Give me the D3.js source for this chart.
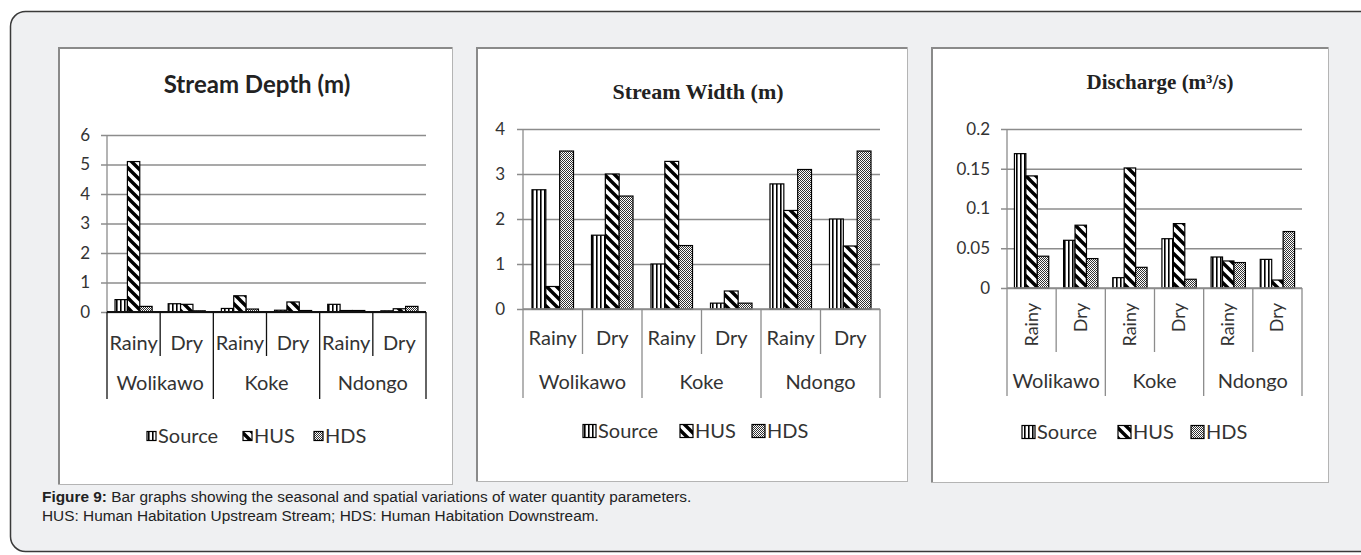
<!DOCTYPE html>
<html>
<head>
<meta charset="utf-8">
<script src="https://cdn.jsdelivr.net/npm/d3@7"></script>
<style>
  body { margin: 0; background: #fff; }
  svg { display: block; }
</style>
</head>
<body>
<svg id="fig" width="1361" height="555"></svg>
<script>
// categories
var groups = ["Wolikawo", "Koke", "Ndongo"];
var seasons = ["Rainy", "Dry"];
var seriesNames = ["Source", "HUS", "HDS"];

// Stream depth (m)
var depthSource = [0.42, 0.28, 0.12, 0.06, 0.26, 0.04];
var depthHUS = [5.1, 0.26, 0.55, 0.34, 0.05, 0.11];
var depthHDS = [0.19, 0.04, 0.1, 0.05, 0.05, 0.19];
var depthTicks = [0, 1, 2, 3, 4, 5, 6];

// Stream width (m)
var widthSource = [2.65, 1.64, 1.0, 0.13, 2.78, 2.0];
var widthHUS = [0.5, 3.0, 3.28, 0.4, 2.19, 1.4];
var widthHDS = [3.51, 2.51, 1.41, 0.13, 3.1, 3.51];
var widthTicks = [0, 1, 2, 3, 4];

// Discharge (m3/s)
var dischargeSource = [0.169, 0.06, 0.013, 0.062, 0.039, 0.036];
var dischargeHUS = [0.141, 0.079, 0.151, 0.081, 0.034, 0.01];
var dischargeHDS = [0.04, 0.037, 0.026, 0.011, 0.032, 0.071];
var dischargeTicks = [0, 0.05, 0.1, 0.15, 0.2];

var svg = d3.select("#fig");
var labelFont = "Lato, 'Open Sans', sans-serif";

// fill patterns
var defs = svg.append("defs");
var p = defs.append("pattern").attr("id", "pSource").attr("patternUnits", "userSpaceOnUse")
    .attr("width", 4).attr("height", 4);
p.append("rect").attr("width", 4).attr("height", 4).attr("fill", "#fff");
p.append("rect").attr("x", 0).attr("width", 1.6).attr("height", 4).attr("fill", "#000");

p = defs.append("pattern").attr("id", "pHUS").attr("patternUnits", "userSpaceOnUse")
    .attr("width", 10).attr("height", 10);
p.append("rect").attr("width", 10).attr("height", 10).attr("fill", "#fff");
p.append("path").attr("d", "M-3,-3L13,13M-3,7L3,13M7,-3L13,3")
    .attr("stroke", "#000").attr("stroke-width", 3.4);

p = defs.append("pattern").attr("id", "pHDS").attr("patternUnits", "userSpaceOnUse")
    .attr("width", 2).attr("height", 2);
p.append("rect").attr("width", 2).attr("height", 2).attr("fill", "#fff");
p.append("rect").attr("width", 1).attr("height", 1).attr("fill", "#333");
p.append("rect").attr("x", 1).attr("y", 1).attr("width", 1).attr("height", 1).attr("fill", "#333");

var fills = {Source: "url(#pSource)", HUS: "url(#pHUS)", HDS: "url(#pHDS)"};

// outer frame
svg.append("rect").attr("x", 10.5).attr("y", 11.5).attr("width", 1400).attr("height", 540)
    .attr("rx", 15).attr("fill", "#eff0f2").attr("stroke", "#3a3a3a").attr("stroke-width", 1.5);

function panel(x0, y0, x1, y1) {
    svg.append("rect").attr("x", x0 + 0.5).attr("y", y0 + 0.5)
        .attr("width", x1 - x0).attr("height", y1 - y0)
        .attr("fill", "#fff").attr("stroke", "#b4b4b4");
    svg.append("path").attr("d", "M" + (x0 + 1) + "," + y1 + "V" + (y0 + 1) + "H" + x1)
        .attr("fill", "none").attr("stroke", "#8a8a8a").attr("stroke-width", 2);
}

panel(58, 47, 452, 484);
panel(476, 47, 907, 481);
panel(931, 47, 1328, 482);

function drawChart(c) {
    var g = svg.append("g");
    var keys = d3.range(6);
    var x = d3.scaleBand().domain(keys).range([c.left, c.right]);
    var xs = d3.scaleBand().domain(seriesNames).range([0, x.bandwidth()]).paddingOuter(0.65);
    var y = d3.scaleLinear().domain([0, d3.max(c.ticks)]).range([c.bottom, c.top]);

    // title
    g.append("text").attr("x", c.titleX).attr("y", c.titleY)
        .attr("text-anchor", "middle").attr("font-family", c.titleFont)
        .attr("font-weight", "bold").attr("font-size", c.titleSize).attr("fill", "#222")
        .text(c.title);

    // gridlines + y axis
    var yAxis = d3.axisLeft(y).tickValues(c.ticks).tickSize(-(c.right - c.left))
        .tickFormat(c.fmt || d3.format("d"));
    var ya = g.append("g").attr("transform", "translate(" + c.left + ",0)").call(yAxis);
    ya.select(".domain").remove();
    ya.selectAll(".tick line").attr("x1", -6).attr("stroke", "#8c8c8c").attr("stroke-width", 1.3);
    ya.selectAll(".tick text").attr("font-family", labelFont).attr("font-size", 17)
        .attr("fill", "#333").attr("x", c.labelRight - c.left).attr("text-anchor", "end");
    g.append("line").attr("x1", c.left).attr("x2", c.left).attr("y1", c.top).attr("y2", c.bottom)
        .attr("stroke", "#8c8c8c").attr("stroke-width", 1.3);

    // bars
    var rows = [];
    keys.forEach(function (k) {
        seriesNames.forEach(function (s) {
            rows.push({k: k, s: s, v: c.values[s][k]});
        });
    });
    g.selectAll("rect.bar").data(rows).enter().append("rect").attr("class", "bar")
        .attr("x", function (d) { return x(d.k) + xs(d.s); })
        .attr("width", xs.bandwidth())
        .attr("y", function (d) { return y(d.v); })
        .attr("height", function (d) { return y(0) - y(d.v); })
        .attr("fill", function (d) { return fills[d.s]; })
        .attr("stroke", "#000").attr("stroke-width", 1.2);

    // category axis line
    g.append("line").attr("x1", c.left).attr("x2", c.right).attr("y1", c.bottom).attr("y2", c.bottom)
        .attr("stroke", c.axisColor).attr("stroke-width", c.axisWidth);

    // separators
    d3.range(7).forEach(function (i) {
        var xx = i < 6 ? x(i) : c.right;
        g.append("line").attr("x1", xx).attr("x2", xx).attr("y1", c.bottom)
            .attr("y2", i % 2 === 0 ? c.groupLine : c.seasonLine)
            .attr("stroke", c.axisColor).attr("stroke-width", 1.3);
    });

    // season labels
    keys.forEach(function (k) {
        var lbl = seasons[k % 2];
        var cx = x(k) + x.bandwidth() / 2;
        if (c.rotate) {
            g.append("text").attr("transform", "translate(" + (cx + 6) + "," + c.seasonY + ") rotate(-90)")
                .attr("text-anchor", "end").attr("font-family", labelFont).attr("font-size", 18)
                .attr("fill", "#333").text(lbl);
        } else {
            g.append("text").attr("x", cx).attr("y", c.seasonY).attr("dy", "0.35em")
                .attr("text-anchor", "middle").attr("font-family", labelFont).attr("font-size", 20)
                .attr("fill", "#333").text(lbl);
        }
    });

    // group labels
    groups.forEach(function (gr, i) {
        var cx = (x(i * 2) + (i * 2 + 2 < 6 ? x(i * 2 + 2) : c.right)) / 2;
        g.append("text").attr("x", cx).attr("y", c.groupY).attr("dy", "0.35em")
            .attr("text-anchor", "middle").attr("font-family", labelFont).attr("font-size", 20)
            .attr("fill", "#333").text(gr);
    });

    // legend
    var lx = c.legendX;
    seriesNames.forEach(function (s, i) {
        g.append("rect").attr("x", lx[i]).attr("y", c.legendY - c.markSize / 2)
            .attr("width", c.markSize).attr("height", c.markSize)
            .attr("fill", fills[s]).attr("stroke", "#000").attr("stroke-width", 1.2);
        g.append("text").attr("x", lx[i] + c.markSize + 2).attr("y", c.legendY).attr("dy", "0.35em")
            .attr("font-family", labelFont).attr("font-size", 20).attr("fill", "#333").text(s);
    });
}

drawChart({
    title: "Stream Depth (m)", titleX: 257, titleY: 93, titleFont: labelFont, titleSize: 24,
    left: 107, right: 426, top: 135, bottom: 312, labelRight: 90,
    ticks: depthTicks,
    values: {Source: depthSource, HUS: depthHUS, HDS: depthHDS},
    axisColor: "#111", axisWidth: 2,
    seasonY: 343, seasonLine: 356, groupY: 383, groupLine: 399,
    legendY: 436, legendX: [147, 243, 314], markSize: 9
});

drawChart({
    title: "Stream Width (m)", titleX: 698, titleY: 99, titleFont: "'Liberation Serif', serif", titleSize: 22,
    left: 523, right: 880, top: 129, bottom: 309, labelRight: 505,
    ticks: widthTicks,
    values: {Source: widthSource, HUS: widthHUS, HDS: widthHDS},
    axisColor: "#8c8c8c", axisWidth: 1.3,
    seasonY: 338, seasonLine: 354, groupY: 382, groupLine: 398,
    legendY: 431, legendX: [583, 680, 752], markSize: 13
});

drawChart({
    title: "Discharge (m\u00b3/s)", titleX: 1160, titleY: 89, titleFont: "'Liberation Serif', serif", titleSize: 21,
    left: 1007, right: 1302, top: 129, bottom: 288, labelRight: 990,
    ticks: dischargeTicks,
    fmt: function (d) { return d === 0 ? "0" : String(+d.toFixed(2)); },
    values: {Source: dischargeSource, HUS: dischargeHUS, HDS: dischargeHDS},
    axisColor: "#8c8c8c", axisWidth: 1.3, rotate: true,
    seasonY: 303, seasonLine: 352, groupY: 381, groupLine: 396,
    legendY: 432, legendX: [1022, 1118, 1191], markSize: 13
});

// caption
var cap = svg.append("text").attr("x", 42).attr("y", 502)
    .attr("font-family", "'Liberation Sans', Arial, sans-serif").attr("font-size", 15.4).attr("fill", "#222");
cap.append("tspan").attr("font-weight", "bold").text("Figure 9:");
cap.append("tspan").text(" Bar graphs showing the seasonal and spatial variations of water quantity parameters.");
svg.append("text").attr("x", 42).attr("y", 521)
    .attr("font-family", "'Liberation Sans', Arial, sans-serif").attr("font-size", 15.4).attr("fill", "#222")
    .text("HUS: Human Habitation Upstream Stream; HDS: Human Habitation Downstream.");
</script>
</body>
</html>
